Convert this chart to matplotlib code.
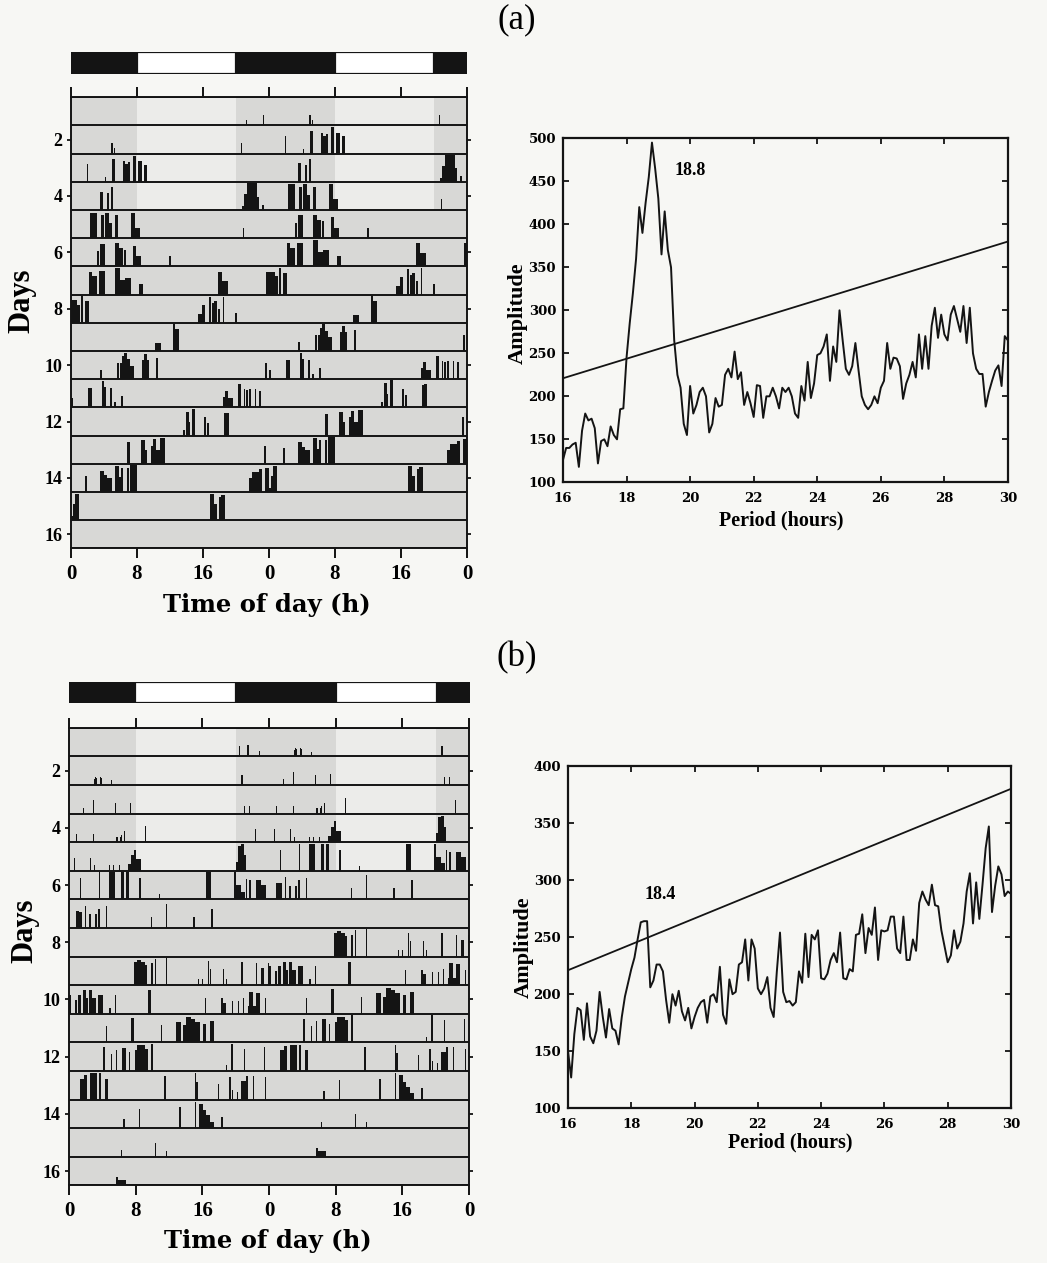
import matplotlib
matplotlib.use("Agg")
import matplotlib.pyplot as plt
from matplotlib.patches import Rectangle

plt.rcParams['font.family'] = ['Liberation Serif', 'DejaVu Serif']
plt.rcParams['font.weight'] = 'bold'

# light/dark schedule, hours over the double-plotted 48 h
dark_phases = [(0, 8), (20, 32), (44, 48)]
light_phases = [(8, 20), (32, 44)]
hour_ticks = [0, 8, 16, 24, 32, 40, 48]
hour_labels = ['0', '8', '16', '0', '8', '16', '0']
day_ticks = [2, 4, 6, 8, 10, 12, 14, 16]

# activity bouts per day: (start h, end h, relative height)
bouts_a = [
    [(21.2, 21.35, 0.2), (23.25, 23.4, 0.38)],
    [(4.85, 5.05, 0.4), (5.2, 5.35, 0.2), (20.55, 20.7, 0.4)],
    [(1.95, 2.1, 0.66), (4.15, 4.3, 0.19), (5.0, 5.3, 0.85), (6.3, 6.6, 0.78), (6.6, 6.9, 0.65),
     (6.9, 7.2, 0.74), (7.55, 7.9, 0.97), (8.15, 8.6, 0.76), (8.8, 9.2, 0.64)],
    [(3.55, 3.85, 0.68), (4.4, 4.65, 0.62), (4.85, 5.1, 0.86), (20.7, 21.0, 0.15), (21.0, 21.3, 0.6),
     (21.3, 22.5, 1.0), (22.5, 22.8, 0.5), (23.1, 23.35, 0.2)],
    [(1.4, 1.5, 0.95), (2.25, 3.1, 0.95), (3.65, 3.95, 0.86), (4.15, 4.55, 0.95), (4.55, 5.0, 0.56),
     (5.3, 5.7, 0.86), (7.3, 7.8, 0.95), (7.8, 8.4, 0.39), (20.8, 20.95, 0.39)],
    [(3.15, 3.45, 0.56), (3.5, 4.15, 0.84), (5.35, 5.85, 0.86), (5.85, 6.25, 0.68), (6.4, 6.7, 0.62),
     (7.5, 7.9, 0.77), (7.9, 8.5, 0.39), (11.85, 12.1, 0.39)],
    [(2.2, 2.55, 0.85), (2.55, 3.2, 0.67), (3.45, 4.1, 0.88), (5.35, 6.0, 0.97), (6.0, 6.6, 0.55),
     (6.6, 7.3, 0.6), (8.3, 8.7, 0.4), (17.8, 18.3, 0.85), (18.3, 19.0, 0.5), (23.6, 24.0, 0.85)],
    [(0.0, 0.7, 0.85), (0.7, 1.1, 0.67), (1.2, 1.4, 1.0), (1.65, 2.15, 0.79), (15.4, 15.9, 0.32),
     (15.9, 16.3, 0.64), (16.7, 17.0, 0.96), (17.1, 17.3, 0.73), (17.35, 17.7, 0.79), (17.8, 18.05, 0.5),
     (18.4, 18.6, 0.97), (19.9, 20.15, 0.38)],
    [(10.2, 10.9, 0.3), (12.35, 12.65, 0.98), (12.65, 13.1, 0.8)],
    [(3.55, 3.75, 0.33), (5.6, 5.8, 0.59), (6.0, 6.2, 0.6), (6.2, 6.45, 0.85), (6.45, 6.8, 0.98),
     (6.8, 7.2, 0.75), (7.2, 7.6, 0.5), (8.6, 8.8, 0.7), (8.8, 9.2, 0.92), (9.2, 9.4, 0.7),
     (10.35, 10.6, 0.78), (23.55, 23.8, 0.59)],
    [(0.0, 0.3, 0.33), (2.05, 2.6, 0.72), (3.75, 4.05, 0.98), (4.05, 4.3, 0.75), (4.7, 5.0, 0.71),
     (5.25, 5.5, 0.21), (6.05, 6.3, 0.41), (18.4, 18.7, 0.4), (18.7, 19.0, 0.62), (19.0, 19.6, 0.33),
     (20.3, 20.6, 0.86), (20.95, 21.15, 0.68), (21.25, 21.45, 0.65), (21.6, 21.8, 0.68),
     (22.25, 22.4, 0.68), (22.75, 23.0, 0.62)],
    [(13.6, 13.85, 0.2), (14.0, 14.25, 0.89), (14.25, 14.45, 0.5), (14.65, 15.05, 1.0), (16.1, 16.35, 0.67),
     (16.5, 16.75, 0.47), (18.5, 18.8, 0.82), (18.8, 19.1, 0.85)],
    [(6.8, 7.1, 0.79), (8.5, 9.0, 0.88), (9.0, 9.25, 0.5), (9.75, 10.0, 0.67), (10.0, 10.35, 0.9),
     (10.35, 10.75, 0.5), (10.75, 11.05, 0.96), (11.05, 11.45, 0.96), (23.45, 23.7, 0.67)],
    [(1.75, 2.0, 0.59), (3.55, 3.95, 0.79), (3.95, 4.35, 0.61), (4.35, 5.0, 0.5), (5.35, 5.8, 0.96),
     (5.8, 6.1, 0.55), (6.1, 6.3, 0.89), (6.8, 7.05, 0.89), (7.2, 8.0, 1.0), (21.55, 21.95, 0.5),
     (21.95, 22.75, 0.73), (22.75, 23.15, 0.85), (23.55, 24.0, 0.9)],
    [(0.0, 0.2, 0.15), (0.2, 0.5, 0.6), (0.5, 0.93, 0.96), (16.9, 17.3, 0.96), (17.3, 17.7, 0.6),
     (17.9, 18.2, 0.84), (18.2, 18.7, 0.93)],
    [],
    [],
]

bouts_b = [
    [(20.4, 20.5, 0.37), (21.35, 21.6, 0.4), (22.8, 22.9, 0.19)],
    [(3.0, 3.1, 0.22), (3.15, 3.25, 0.3), (3.3, 3.4, 0.25), (3.7, 3.8, 0.3), (3.9, 4.0, 0.25),
     (5.05, 5.15, 0.17), (20.6, 20.85, 0.37)],
    [(0.55, 0.65, 0.15), (1.7, 1.8, 0.2), (2.85, 2.95, 0.48), (5.55, 5.65, 0.38), (7.35, 7.45, 0.4),
     (10.4, 10.5, 0.28), (21.0, 21.15, 0.28), (21.6, 21.75, 0.28)],
    [(0.85, 0.95, 0.28), (2.85, 2.95, 0.28), (5.65, 5.75, 0.2), (5.8, 5.9, 0.2), (6.1, 6.2, 0.2),
     (6.25, 6.35, 0.26), (6.65, 6.75, 0.4), (9.1, 9.2, 0.58), (22.3, 22.4, 0.49)],
    [(0.65, 0.75, 0.48), (2.0, 2.1, 0.38), (2.55, 2.65, 0.48), (3.0, 3.1, 0.2), (4.8, 4.9, 0.2),
     (5.25, 5.35, 0.2), (6.0, 6.1, 0.2), (7.1, 7.5, 0.23), (7.5, 7.8, 0.56), (7.8, 8.1, 0.77),
     (8.1, 8.6, 0.42), (20.0, 20.3, 0.33), (20.3, 20.7, 0.9), (20.7, 21.0, 0.97), (21.0, 21.3, 0.56),
     (23.35, 23.45, 0.2)],
    [(1.35, 1.45, 0.77), (3.65, 3.75, 0.98), (4.85, 5.5, 0.98), (6.2, 6.6, 0.98), (6.9, 7.2, 0.98),
     (8.45, 8.6, 0.77), (10.85, 10.95, 0.19), (16.4, 17.1, 0.98), (19.85, 20.1, 0.98), (20.1, 20.7, 0.51),
     (20.7, 21.1, 0.28), (21.2, 21.4, 0.74), (21.65, 21.85, 0.69), (22.45, 23.1, 0.69), (23.1, 23.7, 0.51)],
    [(0.9, 1.25, 0.6), (1.25, 1.55, 0.58), (1.9, 2.1, 0.81), (2.45, 2.7, 0.49), (3.1, 3.4, 0.49),
     (3.5, 3.7, 0.7), (4.45, 4.6, 0.79), (9.85, 9.95, 0.41), (11.65, 11.8, 0.87), (14.9, 15.1, 0.41),
     (17.1, 17.3, 0.7)],
    [],
    [(7.8, 8.2, 0.85), (8.2, 8.7, 0.93), (8.7, 9.1, 0.85), (9.1, 9.4, 0.73), (9.8, 10.05, 0.79),
     (10.3, 10.5, 0.96), (11.65, 11.75, 1.0), (15.45, 15.55, 0.22), (16.0, 16.1, 0.22), (16.65, 16.8, 0.87),
     (16.9, 17.1, 0.58), (18.45, 18.55, 0.58), (18.85, 18.95, 0.22), (20.7, 20.9, 0.85), (22.4, 22.6, 0.79),
     (23.1, 23.4, 0.61), (23.85, 24.0, 0.79)],
    [(0.0, 0.25, 0.68), (0.7, 1.0, 0.5), (1.1, 1.4, 0.68), (1.65, 2.05, 0.85), (2.05, 2.3, 0.56),
     (2.45, 2.8, 0.85), (2.8, 3.25, 0.56), (3.5, 4.05, 0.68), (4.85, 5.05, 0.21), (5.5, 5.7, 0.7),
     (9.5, 9.8, 0.85), (16.3, 16.5, 0.56), (18.25, 18.5, 0.56), (18.5, 18.8, 0.39), (19.55, 19.65, 0.48),
     (20.25, 20.35, 0.48), (20.85, 21.05, 0.59), (21.45, 21.65, 0.27), (21.65, 22.1, 0.8), (22.1, 22.5, 0.27),
     (22.5, 22.9, 0.77), (23.5, 23.7, 0.56)],
    [(4.45, 4.55, 0.59), (7.45, 7.85, 0.89), (11.0, 11.2, 0.62), (12.9, 13.5, 0.74), (13.7, 14.05, 0.62),
     (14.05, 14.7, 0.94), (14.7, 15.1, 0.86), (15.1, 15.7, 0.74), (16.05, 16.4, 0.68), (16.9, 17.4, 0.78)],
    [(4.05, 4.3, 0.86), (5.05, 5.15, 0.6), (5.65, 5.75, 0.76), (6.4, 6.9, 0.84), (7.25, 7.35, 0.68),
     (7.9, 8.2, 0.75), (8.2, 9.1, 0.94), (9.1, 9.5, 0.8), (9.9, 10.1, 0.98), (18.2, 18.3, 0.86),
     (18.85, 18.95, 0.21), (19.5, 19.7, 0.98), (21.05, 21.15, 0.8), (23.45, 23.55, 0.86)],
    [(1.3, 1.8, 0.75), (1.8, 2.2, 0.9), (2.5, 3.4, 0.95), (3.65, 3.9, 0.95), (4.3, 4.7, 0.75),
     (11.45, 11.65, 0.87), (15.1, 15.2, 0.95), (15.2, 15.5, 0.64), (17.85, 17.95, 0.58), (19.25, 19.45, 0.81),
     (19.6, 19.7, 0.35), (20.2, 20.3, 0.29), (20.7, 21.25, 0.69), (21.25, 21.45, 0.87), (22.05, 22.15, 0.87),
     (23.55, 23.65, 0.81)],
    [(6.45, 6.7, 0.32), (8.4, 8.5, 0.71), (13.2, 13.5, 0.76), (15.1, 15.2, 0.96), (15.65, 16.1, 0.88),
     (16.1, 16.5, 0.65), (16.5, 16.9, 0.47), (16.9, 17.4, 0.24), (18.3, 18.5, 0.41)],
    [(6.25, 6.35, 0.24), (9.2, 9.3, 0.59), (10.35, 10.45, 0.5), (11.65, 11.75, 0.21)],
    [(5.65, 5.9, 0.3), (5.9, 6.9, 0.2)],
    [],
]

# number of days kept under the light/dark cycle before constant darkness
ld_days_a = 4
ld_days_b = 5

# periodogram: period (h) in 0.1 h steps, amplitude
periods = [round(16 + 0.1 * i, 1) for i in range(141)]
amp_a = [126, 140, 140, 144, 146, 118, 160, 180, 172, 174,
         163, 122, 148, 150, 142, 165, 155, 150, 185, 186,
         245, 285, 320, 360, 420, 390, 425, 455, 495, 465,
         430, 365, 415, 370, 350, 265, 225, 210, 168, 155,
         212, 180, 190, 205, 210, 200, 158, 168, 198, 188,
         190, 225, 232, 222, 252, 220, 228, 190, 205, 192,
         176, 213, 212, 175, 200, 200, 210, 200, 186, 210,
         205, 210, 200, 180, 175, 212, 195, 240, 198, 215,
         248, 250, 258, 272, 218, 258, 240, 300, 265, 232,
         225, 235, 262, 230, 200, 190, 185, 190, 200, 192,
         210, 218, 262, 232, 245, 244, 235, 197, 215, 225,
         240, 222, 272, 232, 270, 232, 282, 303, 268, 295,
         272, 265, 295, 305, 290, 275, 305, 262, 303, 250,
         232, 226, 226, 188, 205, 218, 230, 236, 212, 270,
         265]
amp_b = [150, 127, 165, 188, 186, 160, 192, 163, 157, 168,
         202, 180, 162, 187, 170, 168, 156, 180, 198, 210,
         222, 232, 248, 263, 264, 264, 206, 212, 226, 226,
         220, 195, 175, 200, 190, 203, 185, 177, 188, 170,
         180, 188, 193, 195, 175, 198, 200, 193, 224, 182,
         174, 213, 200, 202, 226, 228, 248, 212, 248, 240,
         205, 200, 205, 215, 188, 180, 220, 254, 202, 193,
         194, 190, 193, 220, 210, 253, 215, 252, 248, 256,
         214, 213, 218, 230, 236, 228, 254, 214, 213, 222,
         220, 252, 253, 270, 236, 258, 252, 276, 230, 256,
         255, 256, 268, 268, 240, 236, 268, 230, 230, 248,
         238, 280, 290, 283, 278, 296, 278, 277, 256, 242,
         228, 234, 256, 240, 246, 262, 290, 306, 262, 298,
         266, 296, 328, 347, 272, 295, 312, 305, 286, 290,
         288]
threshold_ends = [221, 380]
peak_a = 18.8
peak_b = 18.4

page = '#f7f7f4'
row_gray = '#d8d8d6'
row_light = '#ececea'
ink = '#141414'


def draw_ld_bar(ax):
    for s, e in dark_phases:
        ax.add_patch(Rectangle((s, 0), e - s, 1, facecolor=ink, edgecolor=ink, lw=1.2))
    for s, e in light_phases:
        ax.add_patch(Rectangle((s, 0), e - s, 1, facecolor='white', edgecolor=ink, lw=1.6))
    ax.set_xlim(0, 48)
    ax.set_ylim(0, 1)
    ax.axis('off')


def draw_actogram(ax, bouts, ld_days):
    n_rows = len(bouts) - 1
    for r in range(1, n_rows + 1):
        ax.add_patch(Rectangle((0, r - 0.5), 48, 1, facecolor=row_gray, lw=0))
        if r <= ld_days:
            for s, e in light_phases:
                ax.add_patch(Rectangle((s, r - 0.5), e - s, 1, facecolor=row_light, lw=0))
    xs, ws, hs, bs = [], [], [], []
    for r in range(1, n_rows + 1):
        # double plot: day r on the left, day r+1 on the right
        for offset, day in ((0, r), (24, r + 1)):
            for s, e, h in bouts[day - 1]:
                xs.append(s + offset)
                ws.append(e - s)
                hs.append(-0.96 * h)
                bs.append(r + 0.5)
    ax.bar(xs, hs, width=ws, bottom=bs, align='edge', color=ink, linewidth=0)
    ax.hlines([r + 0.5 for r in range(0, n_rows + 1)], 0, 48, color=ink, lw=1.4)
    ax.set_xlim(0, 48)
    ax.set_ylim(n_rows + 0.5, 0.5)
    ax.set_xticks(hour_ticks)
    ax.set_xticklabels(hour_labels, fontsize=15)
    ax.set_yticks(day_ticks)
    ax.set_yticklabels([str(d) for d in day_ticks], fontsize=13)
    ax.tick_params(axis='x', top=True, direction='out', length=7, width=1.3, pad=4)
    ax.tick_params(axis='y', right=True, direction='out', length=3, width=1.2, pad=3)
    for sp in ax.spines.values():
        sp.set_linewidth(1.4)
        sp.set_color(ink)
    ax.set_facecolor(page)


def draw_periodogram(ax, amp, ymax, peak, label_xy):
    ax.set_facecolor(page)
    ax.plot(periods, amp, color=ink, lw=1.4)
    ax.plot([16, 30], threshold_ends, color=ink, lw=1.3)
    ax.set_xlim(16, 30)
    ax.set_ylim(100, ymax)
    ax.set_xticks(range(16, 31, 2))
    ax.set_yticks(range(100, ymax + 1, 50))
    ax.tick_params(direction='in', top=True, right=True, length=4, width=1.2)
    ax.tick_params(axis='x', pad=7)
    ax.tick_params(axis='y', pad=5)
    for lab in ax.get_xticklabels() + ax.get_yticklabels():
        lab.set_family('DejaVu Serif')
        lab.set_fontsize(9.5)
        lab.set_fontweight('bold')
    for sp in ax.spines.values():
        sp.set_linewidth(1.6)
        sp.set_color(ink)
    ax.text(label_xy[0], label_xy[1], f'{peak}', ha='center', va='center', fontsize=13)


fig = plt.figure(figsize=(10.47, 12.63), dpi=100, facecolor=page)

# panel (a)
draw_ld_bar(fig.add_axes([0.0678, 0.9412, 0.3782, 0.0174]))
draw_actogram(fig.add_axes([0.0678, 0.5658, 0.3782, 0.3572]), bouts_a, ld_days_a)
draw_periodogram(fig.add_axes([0.5377, 0.6181, 0.4250, 0.2724]), amp_a, 500, peak_a, (20.0, 463))

# panel (b)
draw_ld_bar(fig.add_axes([0.0655, 0.4432, 0.3834, 0.0171]))
draw_actogram(fig.add_axes([0.0659, 0.0615, 0.3820, 0.3623]), bouts_b, ld_days_b)
draw_periodogram(fig.add_axes([0.5425, 0.1225, 0.4231, 0.2710]), amp_b, 400, peak_b, (18.9, 287))

fig.text(0.4938, 0.9842, '(a)', ha='center', va='center', fontsize=25, fontweight='normal')
fig.text(0.4938, 0.4790, '(b)', ha='center', va='center', fontsize=25, fontweight='normal')

for x, y in ((0.021, 0.7617), (0.0239, 0.2629)):
    fig.text(x, y, 'Days', rotation=90, ha='center', va='center', fontsize=22)
for x, y in ((0.255, 0.5154), (0.256, 0.0119)):
    fig.text(x, y, 'Time of day (h)', ha='center', va='baseline', fontsize=17.5, family='DejaVu Serif')
for x, y in ((0.4948, 0.7522), (0.5005, 0.2502)):
    fig.text(x, y, 'Amplitude', rotation=90, ha='center', va='center', fontsize=16)
for x, y in ((0.746, 0.5843), (0.7545, 0.0911)):
    fig.text(x, y, 'Period (hours)', ha='center', va='baseline', fontsize=14.5)

fig.savefig('out.png', dpi=100, facecolor=page)
